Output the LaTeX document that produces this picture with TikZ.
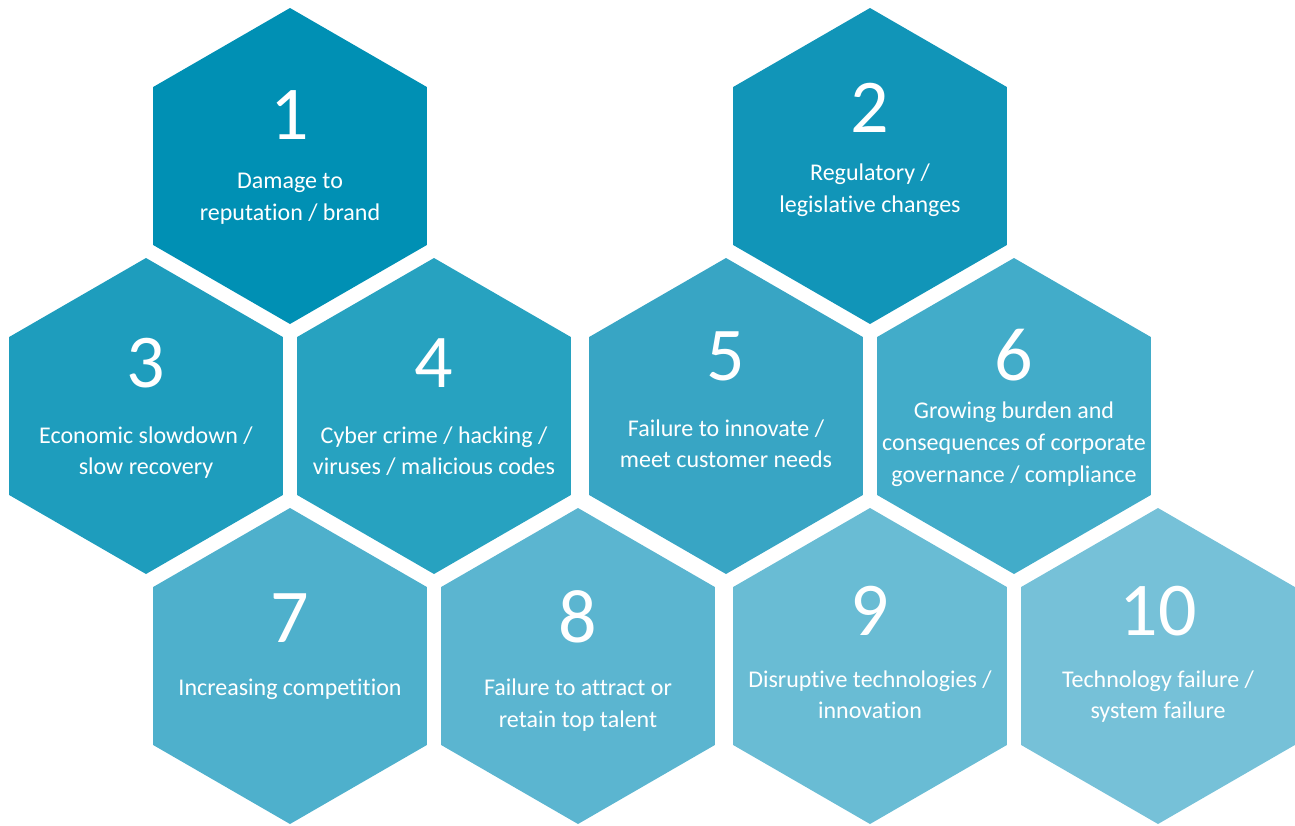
\documentclass[tikz,border=0pt]{standalone}
\usepackage{fontspec}
\setmainfont{Carlito}[Ligatures=NoCommon]
\usetikzlibrary{shapes.geometric}
\definecolor{c1}{HTML}{0090B4}
\definecolor{c2}{HTML}{1195B8}
\definecolor{c3}{HTML}{1E9DBD}
\definecolor{c4}{HTML}{27A2C0}
\definecolor{c5}{HTML}{38A5C4}
\definecolor{c6}{HTML}{42ACC9}
\definecolor{c7}{HTML}{4EB0CC}
\definecolor{c8}{HTML}{5BB5D0}
\definecolor{c9}{HTML}{69BCD4}
\definecolor{c10}{HTML}{76C1D8}
\begin{document}
\begin{tikzpicture}[x=1pt,y=-1pt,
  hexa/.style={regular polygon, regular polygon sides=6, shape border rotate=30,
    minimum size=316pt, inner sep=0pt, outer sep=0pt, fill=#1},
  num/.style={anchor=base, text=white, font=\fontsize{76}{76}\selectfont, inner sep=0pt},
  lbl/.style={anchor=base, text=white, font=\fontsize{24}{24}\selectfont, inner sep=0pt}]
\useasboundingbox (0,0) rectangle (1295,825);
% hexagons
\node[hexa=c1] (h1) at (290,166) {};
\node[hexa=c2] (h2) at (870,166) {};
\node[hexa=c3] (h3) at (146,416) {};
\node[hexa=c4] (h4) at (434,416) {};
\node[hexa=c5] (h5) at (726,416) {};
\node[hexa=c6] (h6) at (1014,416) {};
\node[hexa=c7] (h7) at (290,666) {};
\node[hexa=c8] (h8) at (578,666) {};
\node[hexa=c9] (h9) at (870,666) {};
\node[hexa=c10] (h10) at (1158,666) {};
% 1
\node[num] (n1) at (290,139) {1};
\node[lbl] (t1a) at (290,188) {Damage to};
\node[lbl] (t1b) at (290,220) {reputation / brand};
% 2
\node[num] (n2) at (870,132) {2};
\node[lbl] (t2a) at (870,180) {Regulatory /};
\node[lbl] (t2b) at (870,212) {legislative changes};
% 3
\node[num] (n3) at (146,387) {3};
\node[lbl] (t3a) at (146,443) {Economic slowdown /};
\node[lbl] (t3b) at (146,474) {slow recovery};
% 4
\node[num] (n4) at (434,387) {4};
\node[lbl] (t4a) at (434,443) {Cyber crime / hacking /};
\node[lbl] (t4b) at (434,474) {viruses / malicious codes};
% 5
\node[num] (n5) at (726,380) {5};
\node[lbl] (t5a) at (726,436) {Failure to innovate /};
\node[lbl] (t5b) at (726,467) {meet customer needs};
% 6
\node[num] (n6) at (1014,380) {6};
\node[lbl] (t6a) at (1014,418) {Growing burden and};
\node[lbl] (t6b) at (1014,450) {consequences of corporate};
\node[lbl] (t6c) at (1014,482) {governance / compliance};
% 7
\node[num] (n7) at (290,642) {7};
\node[lbl] (t7a) at (290,695) {Increasing competition};
% 8
\node[num] (n8) at (578,642) {8};
\node[lbl] (t8a) at (578,695) {Failure to attract or};
\node[lbl] (t8b) at (578,727) {retain top talent};
% 9
\node[num] (n9) at (870,635) {9};
\node[lbl] (t9a) at (870,687) {Disruptive technologies /};
\node[lbl] (t9b) at (870,718) {innovation};
% 10
\node[num] (n10) at (1158,635) {10};
\node[lbl] (t10a) at (1158,687) {Technology failure /};
\node[lbl] (t10b) at (1158,718) {system failure};
\end{tikzpicture}
\end{document}
